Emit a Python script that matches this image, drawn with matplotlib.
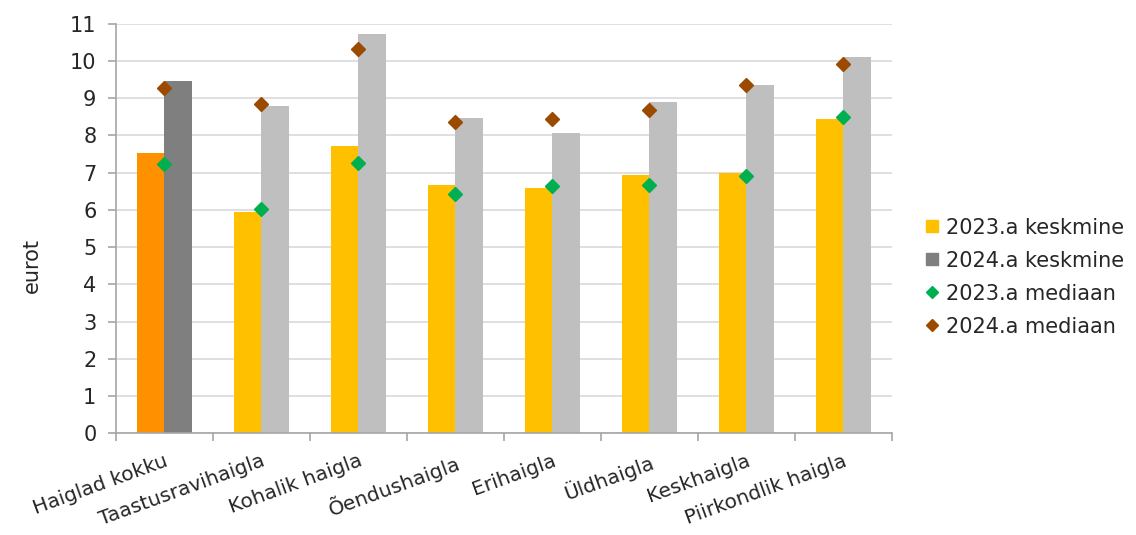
import numpy as np
import matplotlib
matplotlib.use('Agg')
import matplotlib.pyplot as plt
from matplotlib.lines import Line2D

categories = ['Haiglad kokku', 'Taastusravihaigla', 'Kohalik haigla', 'Õendushaigla',
              'Erihaigla', 'Üldhaigla', 'Keskhaigla', 'Piirkondlik haigla']
mean_2023 = [7.52, 5.94, 7.71, 6.66, 6.58, 6.93, 6.98, 8.44]
mean_2024 = [9.47, 8.79, 10.73, 8.47, 8.06, 8.90, 9.35, 10.11]
median_2023 = [7.23, 6.02, 7.25, 6.42, 6.64, 6.66, 6.91, 8.49]
median_2024 = [9.26, 8.84, 10.33, 8.36, 8.45, 8.69, 9.34, 9.91]

c_yellow = '#FFC000'
c_orange = '#FF9000'
c_lgray = '#BFBFBF'
c_dgray = '#7F7F7F'
c_green = '#00B050'
c_brown = '#9C4A00'
txt = '#262626'
fs = 15

plt.rcParams['font.family'] = ['DejaVu Sans']

fig = plt.figure(figsize=(11.36, 5.35), dpi=100)
ax = fig.add_axes([0.102, 0.19, 0.683, 0.766])

x = np.arange(len(categories))
w = 0.285
cols23 = [c_orange] + [c_yellow] * (len(x) - 1)
cols24 = [c_dgray] + [c_lgray] * (len(x) - 1)
ax.bar(x - w / 2, mean_2023, w, color=cols23, zorder=2)
ax.bar(x + w / 2, mean_2024, w, color=cols24, zorder=2)
ax.plot(x, median_2023, 'D', color=c_green, ms=7.5, zorder=3, ls='none')
ax.plot(x, median_2024, 'D', color=c_brown, ms=7.5, zorder=3, ls='none')

ax.set_xlim(-0.5, len(x) - 0.5)
ax.set_ylim(0, 11)
ax.set_yticks(range(0, 12))
ax.grid(axis='y', color='#D9D9D9', lw=1.2, zorder=0)
ax.set_axisbelow(True)

for s in ['top', 'right']:
    ax.spines[s].set_visible(False)
for s in ['left', 'bottom']:
    ax.spines[s].set_color('#A6A6A6')
    ax.spines[s].set_linewidth(1.2)

ax.set_xticks(x)
ax.set_xticklabels(categories, rotation=20, ha='right', rotation_mode='anchor',
                   fontsize=14.5, color=txt)
ax.set_xticks(np.arange(-0.5, len(x), 1), minor=True)
ax.tick_params(axis='x', which='major', length=0, pad=13)
ax.tick_params(axis='x', which='minor', length=6, color='#A6A6A6', width=1.2)
ax.tick_params(axis='y', length=6, color='#A6A6A6', width=1.2, labelsize=fs,
               labelcolor=txt, pad=8)

ax.set_ylabel('eurot', fontsize=fs, color=txt)
ax.yaxis.set_label_coords(-0.095, 0.41)

handles = [
    Line2D([], [], marker='s', color=c_yellow, ls='none', ms=9),
    Line2D([], [], marker='s', color=c_dgray, ls='none', ms=9),
    Line2D([], [], marker='D', color=c_green, ls='none', ms=6.5),
    Line2D([], [], marker='D', color=c_brown, ls='none', ms=6.5),
]
labels = ['2023.a keskmine', '2024.a keskmine', '2023.a mediaan', '2024.a mediaan']
fig.legend(handles, labels, loc='center left', bbox_to_anchor=(0.798, 0.482),
           frameon=False, fontsize=fs, handlelength=0.6, handletextpad=0.4,
           labelspacing=0.62, labelcolor=txt)

fig.savefig('out.png', dpi=100)
